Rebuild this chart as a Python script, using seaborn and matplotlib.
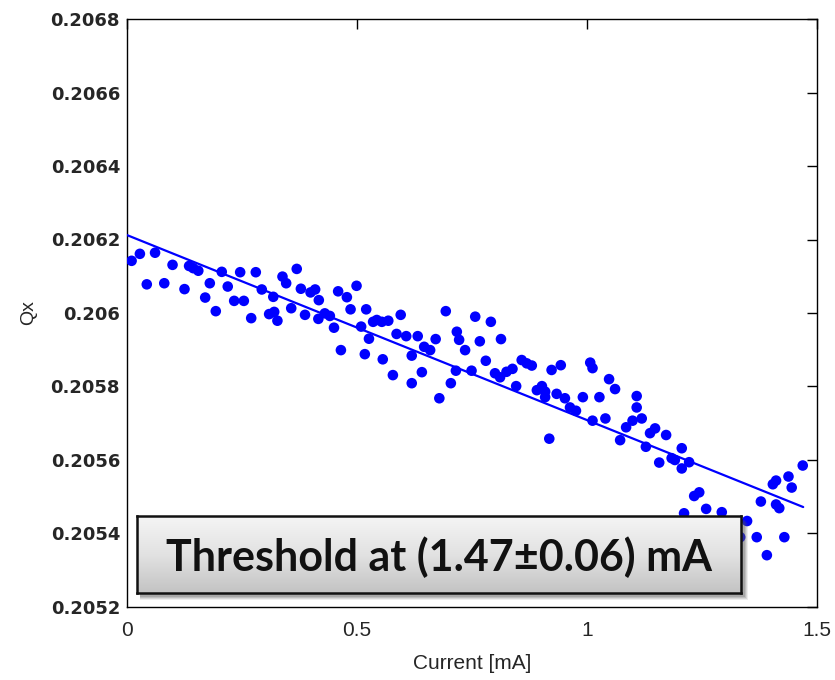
import numpy as np
import pandas as pd
import matplotlib
matplotlib.use("Agg")
import matplotlib.pyplot as plt
import seaborn as sns
from matplotlib.colors import LinearSegmentedColormap
from matplotlib.patches import Rectangle

# ---------------- data ----------------
current_ma = [
    0.010, 0.028, 0.061, 0.043, 0.081, 0.099, 0.135, 0.144, 0.155, 0.125,
    0.180, 0.170, 0.193, 0.206, 0.219, 0.233, 0.254, 0.246, 0.280, 0.270,
    0.293, 0.369, 0.338, 0.346, 0.318, 0.309, 0.320, 0.327, 0.357, 0.378,
    0.399, 0.409, 0.417, 0.387, 0.416, 0.430, 0.441, 0.450, 0.459, 0.478,
    0.499, 0.486, 0.520, 0.465, 0.509, 0.526, 0.535, 0.543, 0.554, 0.568,
    0.517, 0.556, 0.578, 0.595, 0.586, 0.607, 0.693, 0.632, 0.619, 0.646,
    0.659, 0.671, 0.641, 0.619, 0.679, 0.704, 0.717, 0.722, 0.735, 0.715,
    0.757, 0.767, 0.791, 0.749, 0.780, 0.813, 0.800, 0.811, 0.825, 0.838,
    0.846, 0.858, 0.869, 0.880, 0.891, 0.902, 0.909, 0.909, 0.923, 0.943,
    0.934, 0.952, 0.918, 0.963, 0.976, 0.991, 1.007, 1.012, 1.027, 1.012,
    1.048, 1.061, 1.040, 1.072, 1.085, 1.099, 1.119, 1.108, 1.108, 1.137,
    1.148, 1.172, 1.128, 1.157, 1.184, 1.191, 1.206, 1.206, 1.222, 1.233,
    1.244, 1.259, 1.293, 1.211, 1.348, 1.333, 1.369, 1.391, 1.429, 1.378,
    1.404, 1.411, 1.438, 1.445, 1.469, 1.411, 1.418,
]
qx = [
    0.206142, 0.206161, 0.206164, 0.206078, 0.206081, 0.206131, 0.206128, 0.206122, 0.206115, 0.206065,
    0.206081, 0.206042, 0.206005, 0.206112, 0.206072, 0.206033, 0.206033, 0.206111, 0.206111, 0.205986,
    0.206064, 0.206120, 0.206099, 0.206081, 0.206044, 0.205997, 0.206003, 0.205979, 0.206013, 0.206066,
    0.206056, 0.206064, 0.206035, 0.205995, 0.205984, 0.205999, 0.205992, 0.205960, 0.206059, 0.206043,
    0.206074, 0.206010, 0.206010, 0.205899, 0.205963, 0.205930, 0.205976, 0.205981, 0.205976, 0.205979,
    0.205888, 0.205874, 0.205831, 0.205995, 0.205943, 0.205937, 0.206005, 0.205937, 0.205884, 0.205908,
    0.205899, 0.205929, 0.205839, 0.205809, 0.205768, 0.205809, 0.205949, 0.205927, 0.205899, 0.205843,
    0.205990, 0.205923, 0.205976, 0.205843, 0.205870, 0.205929, 0.205836, 0.205825, 0.205840, 0.205848,
    0.205801, 0.205872, 0.205863, 0.205857, 0.205790, 0.205801, 0.205786, 0.205771, 0.205845, 0.205858,
    0.205780, 0.205768, 0.205658, 0.205743, 0.205734, 0.205771, 0.205865, 0.205850, 0.205771, 0.205707,
    0.205820, 0.205793, 0.205713, 0.205654, 0.205689, 0.205707, 0.205713, 0.205774, 0.205743, 0.205673,
    0.205686, 0.205668, 0.205636, 0.205593, 0.205605, 0.205600, 0.205632, 0.205577, 0.205594, 0.205502,
    0.205512, 0.205467, 0.205458, 0.205455, 0.205434, 0.205390, 0.205390, 0.205341, 0.205390, 0.205487,
    0.205534, 0.205544, 0.205555, 0.205525, 0.205585, 0.205479, 0.205469,
]
fit_current = [0.0, 1.47]
fit_qx = [0.206212, 0.205472]

x_ticks = [0, 0.5, 1, 1.5]
x_tick_labels = ["0", "0.5", "1", "1.5"]
y_ticks = [0.2052, 0.2054, 0.2056, 0.2058, 0.2060, 0.2062, 0.2064, 0.2066, 0.2068]
y_tick_labels = ["0.2052", "0.2054", "0.2056", "0.2058", "0.206",
                 "0.2062", "0.2064", "0.2066", "0.2068"]
annotation = "Threshold at (1.47\u00b10.06) mA"

df = pd.DataFrame({"Current [mA]": current_ma, "Qx": qx})
df_fit = pd.DataFrame({"Current [mA]": fit_current, "Qx": fit_qx})

# ---------------- style ----------------
sns.set_style("white")
plt.rcParams["font.family"] = ["Liberation Sans", "DejaVu Sans"]

W, H = 835, 680
fig = plt.figure(figsize=(W / 100, H / 100), dpi=100)
ax = fig.add_axes([127 / W, 1 - 607 / H, 690 / W, 588 / H])

sns.scatterplot(data=df, x="Current [mA]", y="Qx", ax=ax, color="#0000ff",
                s=58, edgecolor="none", linewidth=0, zorder=3)
sns.lineplot(data=df_fit, x="Current [mA]", y="Qx", ax=ax, color="#0000ff",
             linewidth=1.6, zorder=4)

ax.set_xlim(0, 1.5)
ax.set_ylim(0.2052, 0.2068)
ax.set_xticks(x_ticks)
ax.set_xticklabels(x_tick_labels, fontsize=15, family=["Liberation Sans"])
ax.set_yticks(y_ticks)
ax.set_yticklabels(y_tick_labels, fontsize=13, fontweight="bold",
                   family=["DejaVu Sans"])
ax.tick_params(direction="in", length=7, width=1, top=True, right=True,
               color="black", pad=5)
ax.tick_params(axis="x", pad=10)
for sp in ax.spines.values():
    sp.set_color("black")
    sp.set_linewidth(1.0)
ax.set_xlabel("Current [mA]", fontsize=15, family=["Liberation Sans"], labelpad=10)
ax.set_ylabel("Qx", fontsize=14, labelpad=10)

# ---------------- annotation box with gradient + shadow ----------------
bx0, bx1, by0, by1 = 137, 741, 516, 593
for off, a in [(7, 0.10), (6, 0.14), (5, 0.18), (4, 0.22)]:
    fig.patches.append(Rectangle(((bx0 + 3) / W, 1 - (by1 + off) / H),
                                 (bx1 - bx0 + off - 3) / W, (by1 - by0) / H,
                                 transform=fig.transFigure, facecolor="#555555",
                                 edgecolor="none", alpha=a, zorder=3))

box = fig.add_axes([bx0 / W, 1 - by1 / H, (bx1 - bx0) / W, (by1 - by0) / H], zorder=5)
cmap = LinearSegmentedColormap.from_list("g", ["#f5f5f5", "#e2e2e2", "#c3c3c3"])
grad = np.linspace(0, 1, 256).reshape(-1, 1)
box.imshow(grad, aspect="auto", cmap=cmap, extent=[0, 1, 0, 1], origin="upper")
box.set_xticks([])
box.set_yticks([])
for sp in box.spines.values():
    sp.set_color("#111111")
    sp.set_linewidth(1.8)
box.text(0.5, 0.47, annotation, transform=box.transAxes, ha="center", va="center",
         fontsize=31, fontweight="bold", family=["Lato", "DejaVu Sans"], color="#111111")

fig.savefig("out.png", dpi=100)
